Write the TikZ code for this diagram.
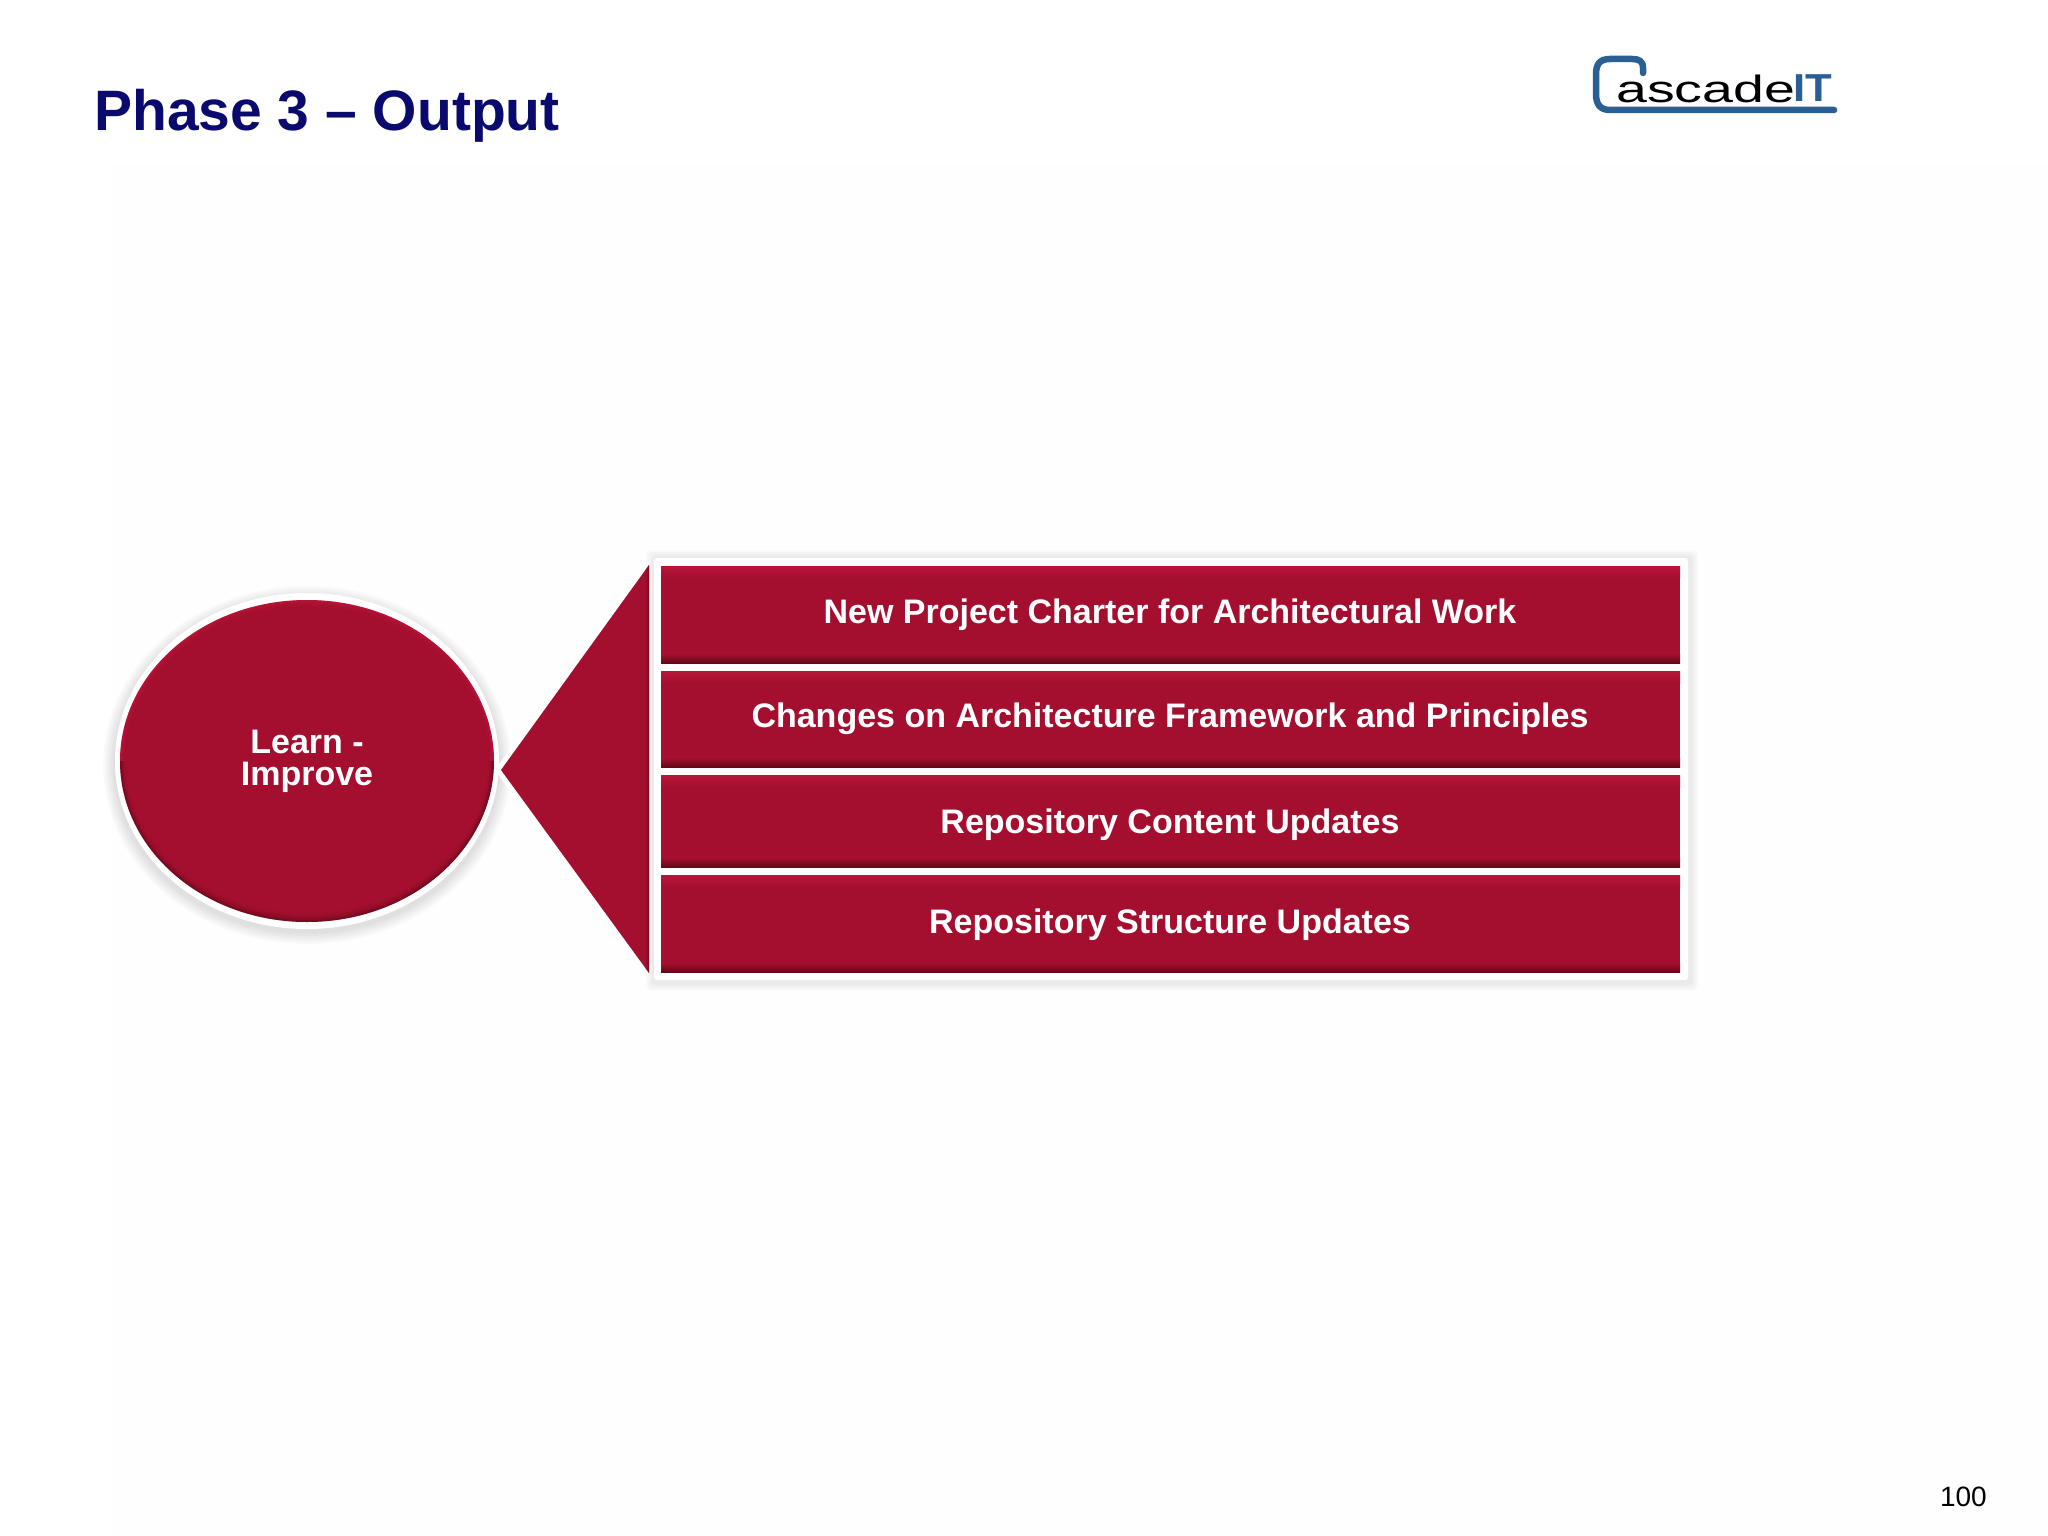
\documentclass[tikz,border=0pt]{standalone}
\usepackage{fontspec}
\usepackage{graphicx}
\setmainfont{Liberation Sans}
\usetikzlibrary{shapes.geometric}
\definecolor{basered}{HTML}{A40F2F}
\definecolor{lightred}{HTML}{BA1539}
\definecolor{darkred}{HTML}{640818}
\definecolor{navytitle}{HTML}{0A0A6E}
\definecolor{logoblue}{HTML}{2A5F94}
\definecolor{pagebg}{HTML}{FEFEFE}
\tikzset{
  x=1pt,y=-1pt,
  lbl/.style={anchor=base,text=white,font=\fontsize{34}{34}\selectfont\bfseries,inner sep=0pt},
  softshadow/.style={fill=black,opacity=0.018},
  boxbody/.style={fill=basered,draw=none,inner sep=0pt,rectangle},
}
% \bevel{name}{x1}{y1}{x2}{y2}
\newcommand{\bevel}[5]{%
  \node[boxbody,minimum width={(#4-#2)*1pt},minimum height={(#5-#3)*1pt}] (#1) at ({(#2+#4)/2},{(#3+#5)/2}) {};
  \shade[top color=lightred,bottom color=basered] (#2,#3) rectangle (#4,#3+12);
  \shade[top color=basered,bottom color=darkred] (#2,#5-9) rectangle (#4,#5);
}
\begin{document}
\begin{tikzpicture}
\useasboundingbox (0,0) rectangle (2048,1536);
\fill[white] (0,0) rectangle (2048,1536);
\fill[pagebg] (112,165) rectangle (2048,1536);

% title, page number
\node[anchor=base west,inner sep=0pt,text=navytitle,font=\fontsize{57}{57}\selectfont\bfseries] (title) at (94,131) {Phase 3 – Output};
\node[anchor=base east,inner sep=0pt,text=black,font=\fontsize{28}{28}\selectfont] (page) at (1987,1506) {100};

% logo
\draw[logoblue,line width=6.5pt,line cap=round,line join=round]
  (1643,73) -- (1643,68) .. controls (1643,61) and (1639,59) .. (1632,59)
  -- (1610,59) .. controls (1600,59) and (1596,64) .. (1596,74)
  -- (1596,94) .. controls (1596,104) and (1600,110) .. (1610,110) -- (1834,110);
\node[anchor=base west,inner sep=0pt,text=black] (logotext) at (1616,103)
  {\scalebox{1.46}[1]{\fontsize{38}{38}\selectfont ascade}};
\node[anchor=base west,inner sep=0pt,text=logoblue] (logoit) at (1793,102)
  {\scalebox{1.12}[1]{\fontsize{39}{39}\selectfont\bfseries IT}};

% circle shadow + body
\foreach \g in {12,10,8,6,4,2}{
  \fill[softshadow] (307,765) ellipse ({192+\g} and {167+\g});
}
\fill[white] (307,761) ellipse (192 and 168);
\begin{scope}
  \clip (307,761) ellipse (187 and 161);
  \fill[lightred] (100,590) rectangle (510,761);
  \fill[darkred] (100,761) rectangle (510,940);
  \foreach \o/\d in {0.3/0,0.4/2,0.5/4,0.7/6}{
    \fill[basered,opacity=\o] (307,761) ellipse ({187-\d*0.7} and {161-\d});
  }
  \fill[basered] (307,761) ellipse (181 and 152);
\end{scope}
\node[ellipse,minimum width=374pt,minimum height=322pt,inner sep=0pt,draw=none] (circ) at (307,761) {};
\node[lbl] (c1) at (307,753) {Learn -};
\node[lbl] (c2) at (307,785) {Improve};

% triangle
\fill[white] (495,770) -- (651,552) -- (651,988) -- cycle;
\fill[basered] (501,770) -- (649,565) -- (649,973) -- cycle;
\shade[left color=basered,right color=darkred,opacity=0.6] (645,570.6) -- (649,565) -- (649,973) -- (645,967.4) -- cycle;

% panel
\foreach \g in {8,6,4,2}{
  \fill[softshadow,rounded corners=4pt] (654-\g,558-\g) rectangle (1688+\g+2,980+\g+3);
}
\fill[white,rounded corners=3pt] (654,558) rectangle (1688,980);

% boxes
\bevel{b1}{661}{566}{1680}{663}
\bevel{b2}{661}{671}{1680}{767}
\bevel{b3}{661}{775}{1680}{867}
\bevel{b4}{661}{875}{1680}{972}

\node[lbl] (t1) at (1170,623) {New Project Charter for Architectural Work};
\node[lbl] (t2) at (1170,727) {Changes on Architecture Framework and Principles};
\node[lbl] (t3) at (1170,833) {Repository Content Updates};
\node[lbl] (t4) at (1170,933) {Repository Structure Updates};
\end{tikzpicture}
\end{document}
